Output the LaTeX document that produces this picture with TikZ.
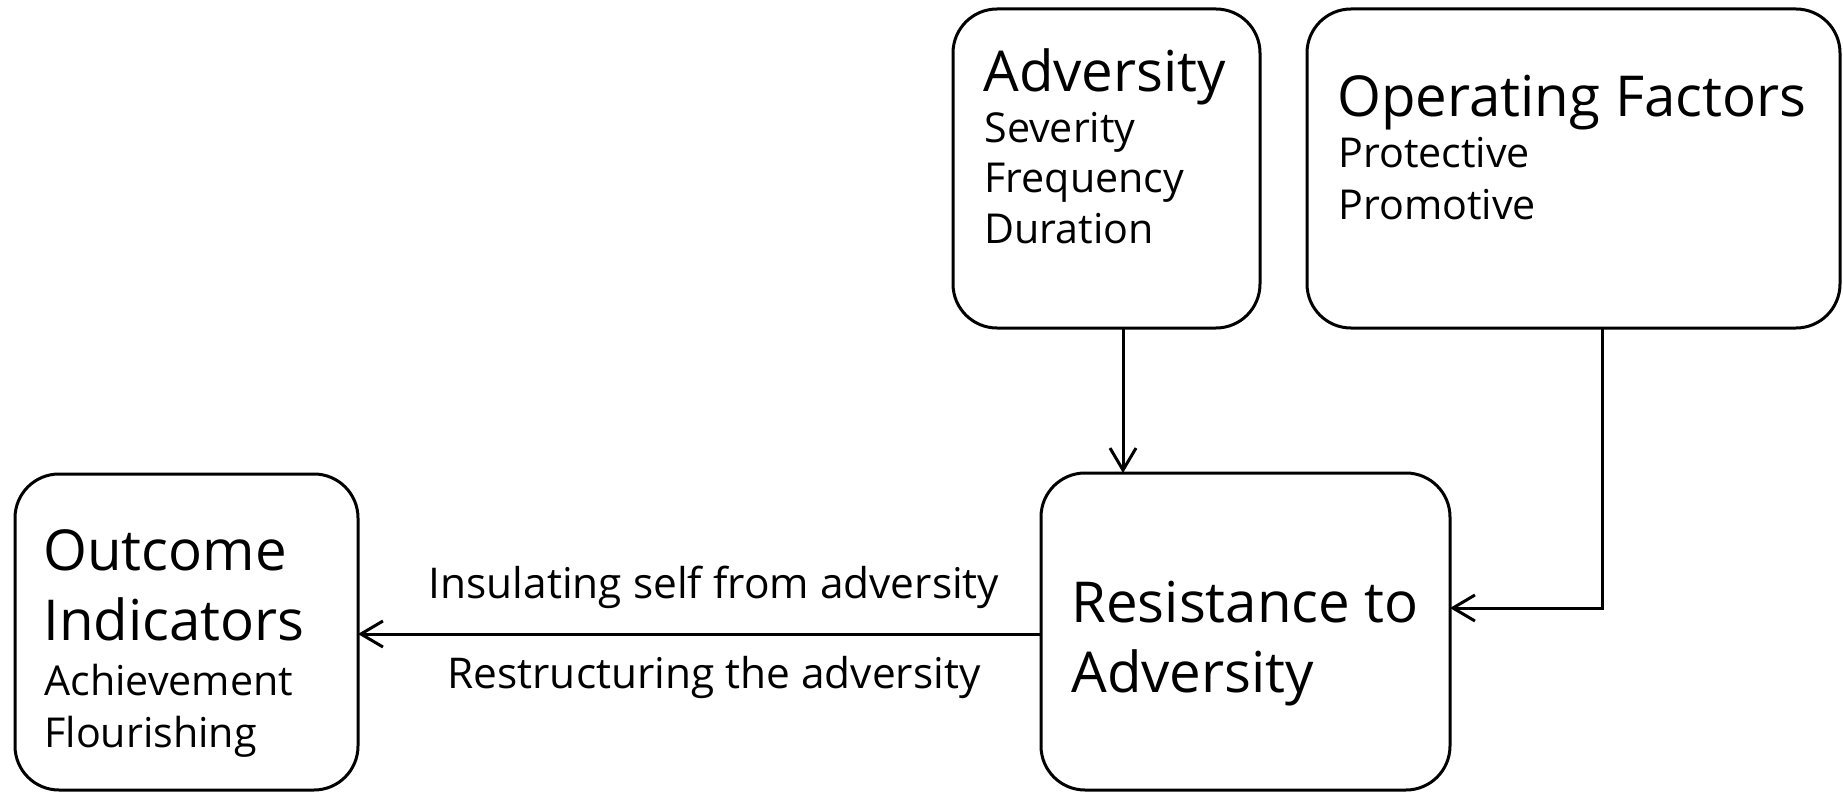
\documentclass[tikz,border=0pt]{standalone}
\usepackage{fontspec}
\setmainfont{Open Sans}
\usetikzlibrary{arrows.meta,calc}
\begin{document}
\begin{tikzpicture}[x=0.5pt,y=-0.5pt,
  box/.style={draw, line width=1.5pt, rounded corners=22pt, inner sep=0pt, outer sep=0pt},
  big/.style={anchor=base west, inner sep=0pt, font=\fontsize{28.2}{34}\selectfont},
  small/.style={anchor=base west, inner sep=0pt, font=\fontsize{20.6}{25}\selectfont},
  lbl/.style={anchor=base, inner sep=0pt, font=\fontsize{21.2}{25}\selectfont},
  arr/.style={line width=1.5pt, -{Straight Barb[length=11pt,width=13pt,line width=1.5pt]}}]
\useasboundingbox (0,0) rectangle (1843,792);

% boxes
\node[box, minimum width=153.5pt, minimum height=159.5pt] (adv) at (1106.5,168.5) {};
\node[box, minimum width=266.5pt, minimum height=159.5pt] (ops) at (1573.5,168.5) {};
\node[box, minimum width=204.5pt, minimum height=158.5pt] (res) at (1245.5,631.5) {};
\node[box, minimum width=171.5pt, minimum height=158pt] (out) at (186.5,632) {};

% box texts
\node[big]   (advT)  at (983,92)  {Adversity};
\node[small] (advA)  at (984,142) {Severity};
\node[small] (advB)  at (984,192) {Frequency};
\node[small] (advC)  at (984,243) {Duration};

\node[big]   (opsT)  at (1337,117) {Operating Factors};
\node[small] (opsA)  at (1338,168) {Protective};
\node[small] (opsB)  at (1338,220) {Promotive};

\node[big]   (resT)  at (1071,622) {Resistance to};
\node[big]   (resU)  at (1071,692) {Adversity};

\node[big]   (outT)  at (43,570) {Outcome};
\node[big]   (outU)  at (43,640) {Indicators};
\node[small] (outA)  at (44,695) {Achievement};
\node[small] (outB)  at (44,747) {Flourishing};

% connector anchors
\coordinate (advDrop) at ($(adv.south)+(16.5,0)$);
\coordinate (opsDrop) at ($(ops.south)+(28.5,0)$);
\coordinate (resIn)   at ($(res.east)+(0,-23.5)$);
\coordinate (resOut)  at ($(res.west)+(0,2.5)$);

% connectors
\draw[arr] (advDrop) -- (advDrop |- res.north);
\draw[arr] (opsDrop) |- (resIn);
\draw[arr] (resOut) -- (resOut -| out.east);

% path labels
\node[lbl] (insul) at (714,598) {Insulating self from adversity};
\node[lbl] (restr) at (714,688) {Restructuring the adversity};
\end{tikzpicture}
\end{document}
